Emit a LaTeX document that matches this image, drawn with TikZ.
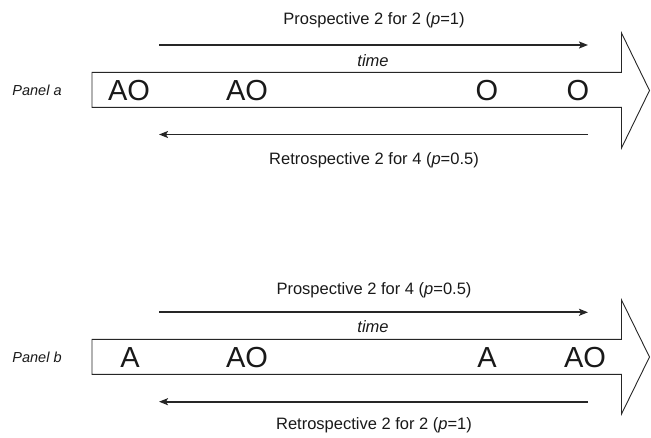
\documentclass[tikz,border=0pt]{standalone}
\usepackage{fontspec}
\setmainfont{Liberation Sans}
\usetikzlibrary{arrows.meta}
\tikzset{
  body/.style={draw=black!85, line width=0.9pt, fill=white, line join=miter},
  timearrow/.style={draw=black!85, line width=1.9pt, -{Stealth[length=9pt,width=7pt,inset=2pt]}},
  big/.style={font=\fontsize{29}{29}\selectfont, text=black!90, inner sep=0pt, anchor=center},
  caption/.style={font=\fontsize{16.5}{16.5}\selectfont, text=black!90, inner sep=0pt},
  timelbl/.style={font=\fontsize{16.5}{16.5}\selectfont\itshape, text=black!90, inner sep=0pt},
  panellbl/.style={font=\fontsize{14.5}{14.5}\selectfont\itshape, text=black!90, inner sep=0pt}
}
\begin{document}
\begin{tikzpicture}[x=1pt,y=-1pt]
\useasboundingbox (0,0) rectangle (651,437);
% ---------- Panel a ----------
\draw[body] (92,72.3) -- (621.5,72.3) -- (621.5,33) -- (649.5,90.5) -- (621.5,148) -- (621.5,107.3) -- (92,107.3) -- cycle;
\node[panellbl] (pa) at (37,90) {Panel a};
\node[big] (a1) at (129,90.5) {AO};
\node[big] (a2) at (247,90.5) {AO};
\node[big] (a3) at (487,90.5) {O};
\node[big] (a4) at (578,90.5) {O};
\coordinate (atl) at (159,45);
\coordinate (atr) at (588,45);
\coordinate (abl) at (159,134.5);
\coordinate (abr) at (588,134.5);
\draw[timearrow] (atl) -- (atr);
\draw[timearrow] (abr) -- (abl);
\node[caption] (apro) at (374,20) {Prospective 2 for 2 (\textit{p}=1)};
\node[timelbl] (atime) at (373,60.5) {time};
\node[caption] (aret) at (374,160) {Retrospective 2 for 4 (\textit{p}=0.5)};
% ---------- Panel b ----------
\draw[body] (92,339.3) -- (621.5,339.3) -- (621.5,300) -- (649.5,357) -- (621.5,414) -- (621.5,374.3) -- (92,374.3) -- cycle;
\node[panellbl] (pb) at (37,357) {Panel b};
\node[big] (b1) at (130,357.5) {A};
\node[big] (b2) at (247,357.5) {AO};
\node[big] (b3) at (487,357.5) {A};
\node[big] (b4) at (585,357.5) {AO};
\coordinate (btl) at (159,312.3);
\coordinate (btr) at (588,312.3);
\coordinate (bbl) at (159,401.7);
\coordinate (bbr) at (588,401.7);
\draw[timearrow] (btl) -- (btr);
\draw[timearrow] (bbr) -- (bbl);
\node[caption] (bpro) at (374,290) {Prospective 2 for 4 (\textit{p}=0.5)};
\node[timelbl] (btime) at (373,326.5) {time};
\node[caption] (bret) at (374,425) {Retrospective 2 for 2 (\textit{p}=1)};
\end{tikzpicture}
\end{document}
